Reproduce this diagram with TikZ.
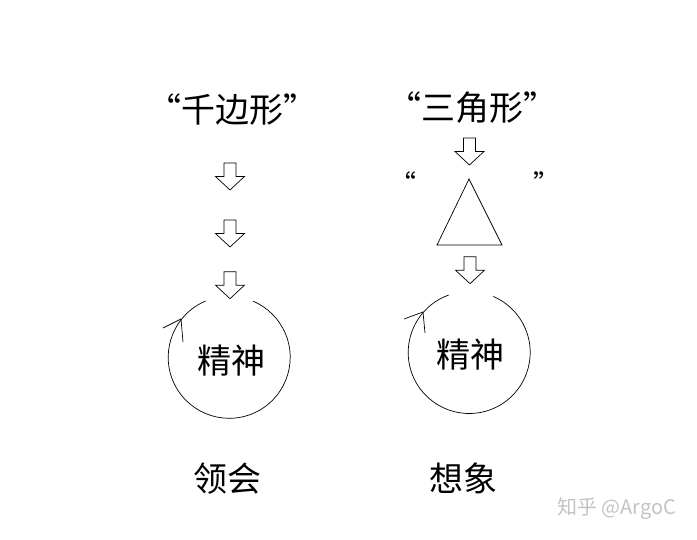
\documentclass[tikz,border=0pt]{standalone}
\usepackage{fontspec}
\newfontfamily\cjkfont{Noto Sans CJK SC}
\definecolor{wmgray}{RGB}{195,195,195}
\tikzset{
  lbl/.style={font=\cjkfont\fontsize{34}{40}\selectfont, inner sep=0pt},
  smallq/.style={font=\cjkfont\fontsize{27}{30}\selectfont, inner sep=0pt},
  wm/.style={font=\cjkfont\fontsize{20}{24}\selectfont, text=wmgray, inner sep=0pt},
  blockarrow/.pic={
    \draw (-6,0) -- (-6,-13.5) -- (-14.5,-13.5) -- (0,-27) -- (14.5,-13.5) -- (6,-13.5) -- (6,0) -- cycle;
  }
}
\begin{document}
\begin{tikzpicture}[x=1pt,y=1pt,line width=0.7pt]
\useasboundingbox (0,0) rectangle (697,540);
% titles
\node[lbl] (qbx) at (232,430) {“千边形”};
\node[lbl] (sjx) at (472,432) {“三角形”};
% left arrows
\pic (la1) at (230,377) {blockarrow};
\pic (la2) at (230,320) {blockarrow};
\pic (la3) at (230,268.3) {blockarrow};
% right arrows
\pic (ra1) at (469.5,402) {blockarrow};
\pic (ra2) at (470,283.3) {blockarrow};
% triangle with quotes
\coordinate (tA) at (469,361);
\coordinate (tB) at (437,295);
\coordinate (tC) at (502,295);
\draw (tA) -- (tB) -- (tC) -- cycle;
\node[smallq] (ql) at (403,357) {“};
\node[smallq] (qr) at (547,357) {”};
% left circle
\coordinate (c1) at (229.2,182.7);
\draw ([shift={(112.7:61)}]c1) arc[start angle=112.7, end angle=427, radius=61];
\coordinate (h1) at (181,221);
\coordinate (h1a) at (163,212);
\coordinate (h1b) at (183,198);
\draw (h1a) -- (h1);
\draw (h1) -- (h1b);
\node[lbl] (js1) at (231,179) {精神};
% right circle
\coordinate (c2) at (469.2,187.5);
\draw ([shift={(109.6:61)}]c2) arc[start angle=109.6, end angle=426.7, radius=61];
\coordinate (h2) at (423,228);
\coordinate (h2a) at (404,221);
\coordinate (h2b) at (425,207);
\draw (h2a) -- (h2);
\draw (h2) -- (h2b);
\node[lbl] (js2) at (470,185) {精神};
% bottom labels
\node[lbl] (lh) at (227,61.5) {领会};
\node[lbl] (xx) at (463,61.5) {想象};
% watermark
\node[wm] (mark) at (616.5,31) {知乎 @ArgoC};
\end{tikzpicture}
\end{document}
